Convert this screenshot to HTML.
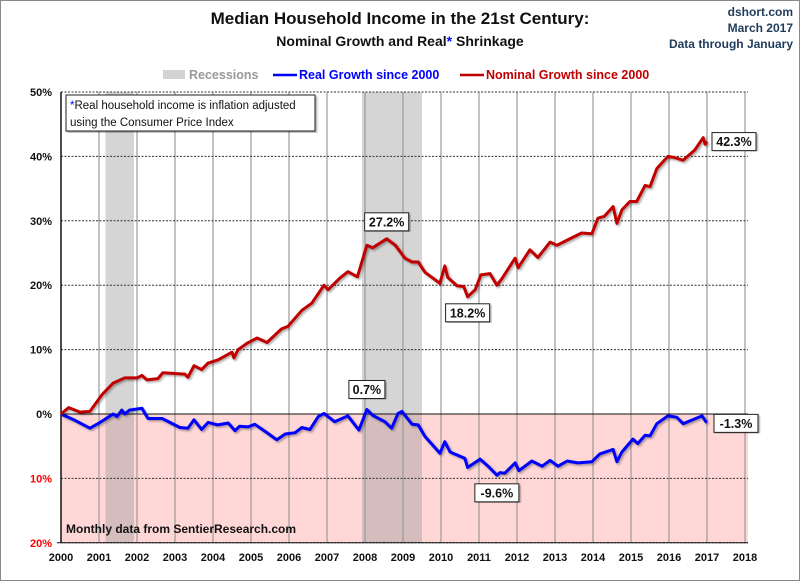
<!DOCTYPE html>
<html><head><meta charset="utf-8"><style>
body{margin:0;background:#fff;}
svg{display:block;font-family:"Liberation Sans",sans-serif;}
</style></head><body>
<svg id="chart" width="800" height="581" viewBox="0 0 800 581">
<defs><filter id="sh" x="-5%" y="-5%" width="110%" height="110%"><feDropShadow dx="1.5" dy="1.5" stdDeviation="1" flood-color="#000" flood-opacity="0.35"/></filter></defs>
<rect x="0.5" y="0.5" width="799" height="580" fill="#fff" stroke="#888"/>
<text x="400" y="24" text-anchor="middle" font-size="17" font-weight="bold" fill="#111">Median Household Income in the 21st Century:</text>
<text x="400" y="46" text-anchor="middle" font-size="14" font-weight="bold" fill="#111">Nominal  Growth and Real<tspan fill="#0000ff">*</tspan> Shrinkage</text>
<g font-size="12" font-weight="bold" fill="#1f3b5a" text-anchor="end">
<text x="793" y="16">dshort.com</text><text x="793" y="32">March 2017</text><text x="793" y="48">Data through January</text></g>
<g id="legend" font-size="12.5" font-weight="bold">
<rect x="163" y="70" width="22" height="9" fill="#d3d3d3"/>
<text x="189" y="79" fill="#999">Recessions</text>
<line x1="273" y1="75" x2="297" y2="75" stroke="#0000ff" stroke-width="2.5"/>
<text x="299" y="79" fill="#0000ff">Real Growth since 2000</text>
<line x1="460" y1="75" x2="484" y2="75" stroke="#c00000" stroke-width="2.5"/>
<text x="486" y="79" fill="#c00000">Nominal Growth since 2000</text>
</g>
<g id="plot"></g>
</svg>
<script>
const yTicks=[50,40,30,20,10,0,-10,-20];
const yTickLabels=["50%","40%","30%","20%","10%","0%","10%","20%"];
const xTicks=[2000,2001,2002,2003,2004,2005,2006,2007,2008,2009,2010,2011,2012,2013,2014,2015,2016,2017,2018];
const recessionStarts=[2001.17,2007.92];
const recessionEnds=[2001.92,2009.5];
const nomDates=[2000,2000.2,2000.5,2000.76,2001.08,2001.37,2001.68,2002,2002.13,2002.26,2002.55,2002.68,2003.26,2003.34,2003.5,2003.7,2003.87,2004.13,2004.5,2004.55,2004.66,2004.9,2005.16,2005.42,2005.8,2005.97,2006.34,2006.6,2006.77,2006.92,2007.03,2007.34,2007.55,2007.8,2008.05,2008.2,2008.57,2008.8,2009.05,2009.24,2009.4,2009.58,2009.97,2010.1,2010.18,2010.42,2010.6,2010.7,2010.9,2011.05,2011.29,2011.47,2011.6,2011.95,2012.03,2012.34,2012.55,2012.87,2013.05,2013.32,2013.7,2013.97,2014.13,2014.3,2014.53,2014.63,2014.76,2014.97,2015.15,2015.37,2015.5,2015.68,2015.97,2016.16,2016.37,2016.68,2016.9,2016.95,2017];
const nomVals=[0,1,0.3,0.4,3,4.8,5.6,5.6,6,5.3,5.5,6.4,6.2,5.7,7.5,6.9,7.9,8.4,9.6,8.7,10,11,11.8,11.1,13.2,13.6,16.1,17.2,18.7,20,19.3,21.1,22.1,21.3,26.2,25.8,27.2,26.2,24.2,23.6,23.6,22,20.3,23,21.2,19.9,19.8,18.2,19.3,21.6,21.8,20,21,24.2,22.7,25.5,24.3,26.7,26.2,27,28.1,28,30.4,30.7,32.2,29.6,31.7,33,33,35.5,35.3,38.1,40,39.8,39.4,41,42.9,41.9,42.3];
const realDates=[2000,2000.37,2000.76,2001.03,2001.37,2001.47,2001.6,2001.68,2001.8,2002.13,2002.29,2002.66,2003.13,2003.34,2003.5,2003.7,2003.87,2004.13,2004.4,2004.58,2004.7,2004.92,2005.1,2005.37,2005.68,2005.9,2006.16,2006.34,2006.55,2006.77,2006.92,2007.2,2007.55,2007.84,2008.05,2008.2,2008.52,2008.7,2008.87,2008.97,2009.24,2009.4,2009.58,2009.97,2010.1,2010.24,2010.63,2010.7,2011.03,2011.24,2011.47,2011.55,2011.68,2011.95,2012.05,2012.39,2012.66,2012.87,2013.08,2013.32,2013.6,2013.97,2014.18,2014.53,2014.63,2014.76,2015.05,2015.18,2015.37,2015.5,2015.68,2015.97,2016.2,2016.37,2016.87,2016.97,2017];
const realVals=[0,-1,-2.2,-1.3,0,-0.4,0.6,0,0.6,0.9,-0.7,-0.7,-2.1,-2.2,-0.9,-2.4,-1.3,-1.7,-1.4,-2.6,-1.9,-2,-1.6,-2.7,-4,-3.1,-2.9,-2.1,-2.4,-0.4,0.1,-1.2,-0.3,-2.5,0.7,-0.2,-1.2,-2.2,0.1,0.4,-1.6,-1.7,-3.5,-6.1,-4.3,-5.9,-6.9,-8.3,-7,-8.1,-9.5,-9.1,-9.2,-7.6,-8.8,-7.3,-8.1,-7.2,-8.1,-7.3,-7.6,-7.4,-6.2,-5.5,-7.4,-5.9,-3.9,-4.6,-3.3,-3.4,-1.5,-0.3,-0.5,-1.5,-0.3,-1.2,-1.3];
const annotations=[["27.2%",2008.57,27.2,0,-17],["18.2%",2010.7,18.2,0,16],["0.7%",2008.05,0.7,0,-20],["-9.6%",2011.47,-9.6,0,17],["42.3%",2017,42.3,5,0],["-1.3%",2017,-1.3,7,1]];

const NS="http://www.w3.org/2000/svg";
const X0=61,X1=745,Y0=414,PX=6.44;
const xs=d=>X0+(d-2000)*(X1-X0)/18;
const ys=v=>Y0-v*PX;
const g=document.getElementById('plot');
function mk(t,a,p){const e=document.createElementNS(NS,t);for(const k in a)e.setAttribute(k,a[k]);(p||g).appendChild(e);return e;}

const bg=mk('rect',{x:X0,y:ys(0),width:748-X0,height:ys(-20)-ys(0),fill:'#ffd7d7'});


recessionStarts.forEach((s,i)=>{
 const r=mk('rect',{x:xs(s),y:ys(50),width:xs(recessionEnds[i])-xs(s),height:ys(-20)-ys(50),fill:'rgba(150,150,150,0.4)'});
 
 
});
xTicks.forEach(t=>{
 if(t>2000){const l=mk('line',{x1:xs(t),x2:xs(t),y1:ys(50),y2:ys(-20),stroke:'#999','stroke-width':1.2});
 
 }
 const tx=mk('text',{x:xs(t),y:561,'text-anchor':'middle','font-size':11,'font-weight':'bold',fill:'#111'});
 tx.textContent=t;
 
 
});
yTicks.forEach((t,i)=>{
 if(t!==0){const l=mk('line',{x1:X0,x2:748,y1:ys(t),y2:ys(t),stroke:'#333','stroke-dasharray':'2,1.5','stroke-width':1});
 
 }
 const tx=mk('text',{x:52,y:ys(t)+4,'text-anchor':'end','font-size':11,'font-weight':'bold',fill:t<0?'#ff0000':'#111'});
 tx.textContent=yTickLabels[i];
 
 
});
const zl=mk('line',{x1:X0,x2:748,y1:ys(0),y2:ys(0),stroke:'#111','stroke-width':1});


const ax=mk('line',{x1:X0,x2:X0,y1:ys(50),y2:ys(-20),stroke:'#111','stroke-width':1.5});


const ax2=mk('line',{x1:X0-4,x2:748,y1:ys(-20),y2:ys(-20),stroke:'#111','stroke-width':1});



function line(d,v){return d.map((x,i)=>(i?'L':'M')+xs(x).toFixed(1)+','+ys(v[i]).toFixed(1)).join('');}
const pr=mk('path',{d:line(realDates,realVals),fill:'none',stroke:'#0000ff','stroke-width':3,'stroke-linejoin':'round',filter:'url(#sh)'});


const pn=mk('path',{d:line(nomDates,nomVals),fill:'none',stroke:'#c00000','stroke-width':3,'stroke-linejoin':'round',filter:'url(#sh)'});



annotations.forEach(a=>{
 const cx=xs(a[1])+a[3],cy=ys(a[2])+a[4];
 const w=a[0].length*8+4;
 const bx=a[3]>0?cx:cx-w/2;
 const r=mk('rect',{x:bx,y:cy-9,width:w,height:18,fill:'#fff',stroke:'#222','stroke-width':1,filter:'url(#sh)'});
 
 
 const t=mk('text',{x:bx+w/2,y:cy+4.5,'text-anchor':'middle','font-size':12.5,'font-weight':'bold',fill:'#111'});
 t.textContent=a[0];
 
 
});
const nb=mk('rect',{x:66,y:95,width:249,height:36,fill:'#fff',stroke:'#222','stroke-width':1,filter:'url(#sh)'});


const n1=mk('text',{x:70,y:109,'font-size':11.5,fill:'#111'});
n1.innerHTML='<tspan fill="#0000ff">*</tspan>Real household  income is inflation adjusted';


const n2=mk('text',{x:70,y:126,'font-size':11.5,fill:'#111'});
n2.textContent='using  the Consumer Price Index';


const src=mk('text',{x:66,y:533,'font-size':12,'font-weight':'bold',fill:'#111'});
src.textContent='Monthly data from SentierResearch.com';


</script>
</body></html>
